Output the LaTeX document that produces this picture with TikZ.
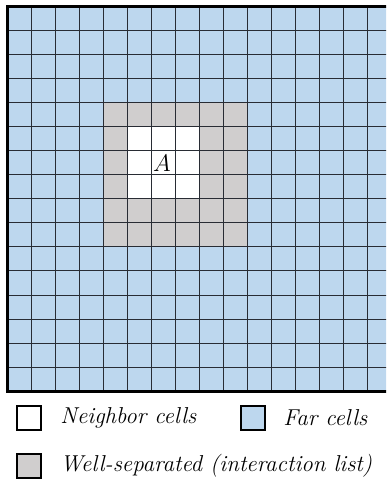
\documentclass[tikz,border=0pt]{standalone}
\begin{document}
\begin{tikzpicture}[x=0.5pt,y=-0.5pt,
  farfill/.style={fill={rgb,255:red,189;green,215;blue,238}},
  wellfill/.style={fill={rgb,255:red,208;green,206;blue,206}},
  gridline/.style={draw={rgb,255:red,40;green,44;blue,52},line width=0.5pt},
  legbox/.style={draw=black,line width=0.6pt,minimum size=12pt,inner sep=0pt},
  legtext/.style={anchor=west,inner sep=0pt,font=\fontsize{11.5}{13}\selectfont\itshape}]
\useasboundingbox (0,0) rectangle (386,485);
\begin{scope}
\clip (0,0) rectangle (386,485);
\fill[farfill] (7,7) rectangle (391,391);
\fill[wellfill] (103,103) rectangle (247,247);
\fill[white] (127,127) rectangle (199,199);
\foreach \i in {1,...,15}{
  \draw[gridline] ({7+24*\i},7) -- ({7+24*\i},391);
  \draw[gridline] (7,{7+24*\i}) -- (391,{7+24*\i});
}
\draw[line width=1.5pt] (391,7) -- (7,7) -- (7,391) -- (391,391);
\end{scope}
\node[font=\fontsize{12.5}{14}\selectfont] (A) at (162,163) {$A$};
\node[legbox,fill=white] (nb) at (29,418) {};
\node[legtext] (nbt) at (60,418) {Neighbor cells};
\node[legbox,farfill] (fb) at (253,418) {};
\node[legtext] (fbt) at (283,418) {Far cells};
\node[legbox,wellfill] (wb) at (29,466) {};
\node[legtext] (wbt) at (60,466) {Well-separated (interaction list)};
\end{tikzpicture}
\end{document}
